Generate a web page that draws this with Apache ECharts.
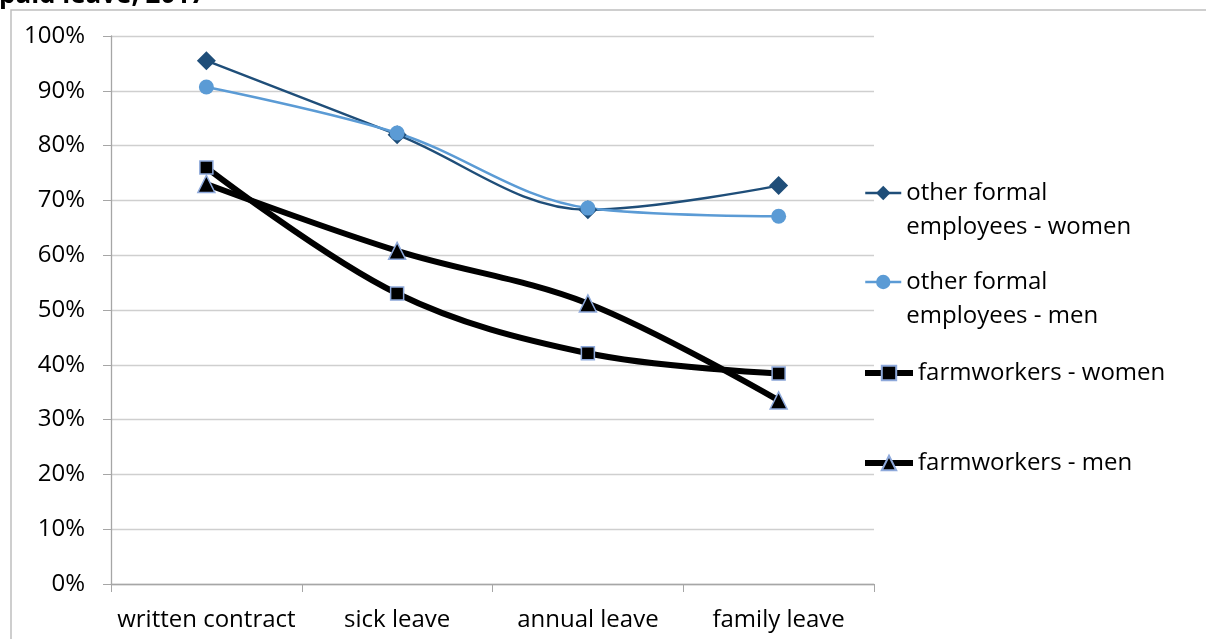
<!DOCTYPE html>
<html>
<head>
<meta charset="utf-8">
<script src="https://cdn.jsdelivr.net/npm/echarts@6/dist/echarts.min.js"></script>
<style>
  html, body { margin: 0; padding: 0; background: #fff; }
  #chart { width: 1206px; height: 639px; }
</style>
</head>
<body>
<div id="chart"></div>
<script>
// categories and values (share of workers, %)
var categories = ['written contract', 'sick leave', 'annual leave', 'family leave'];
var otherWomen = [95.5, 82.0, 68.3, 72.7];
var otherMen = [90.7, 82.3, 68.6, 67.1];
var farmWomen = [76.0, 53.0, 42.1, 38.4];
var farmMen = [73.0, 60.8, 51.2, 33.5];
var yTicks = [0, 10, 20, 30, 40, 50, 60, 70, 80, 90, 100];

var FONT = '"Open Sans", "Liberation Sans", sans-serif';

var chart = echarts.init(document.getElementById('chart'));

var makeSeries = function (name, data, color, width, symbol, size, border) {
    return {
        name: name,
        type: 'line',
        data: data,
        smooth: 0.35,
        symbol: symbol,
        symbolSize: size,
        showAllSymbol: true,
        z: width > 3 ? 3 : 4,
        lineStyle: { color: color, width: width },
        itemStyle: {
            color: color,
            borderColor: border || color,
            borderWidth: border ? 1.5 : 0
        },
        emphasis: { disabled: true }
    };
};

// one legend per series so each entry can sit where the reference has it
var legendItem = function (name, left, top, iconWidth, lineWidth, twoLines) {
    return {
        show: true,
        data: [name],
        left: left,
        top: top,
        orient: 'vertical',
        itemWidth: iconWidth,
        itemHeight: 18,
        itemGap: 0,
        padding: 0,
        selectedMode: false,
        lineStyle: { width: lineWidth },
        // a blank first line keeps the icon level with the first text line
        formatter: function (n) { return twoLines ? ' \n' + n : n; },
        textStyle: {
            fontFamily: FONT,
            fontSize: 24,
            color: '#000',
            lineHeight: 34
        }
    };
};

var option = {
    animation: false,
    backgroundColor: '#fff',
    title: {
        text: 'paid leave, 2017',
        left: -1,
        top: -17,
        padding: 0,
        textStyle: { fontFamily: FONT, fontSize: 26, fontWeight: 'bold', color: '#000' }
    },
    graphic: [{
        type: 'rect',
        shape: { x: 11, y: 10, width: 1400, height: 800 },
        style: { fill: null, stroke: '#BFBFBF', lineWidth: 1.5 },
        silent: true,
        z: -10
    }],
    legend: [
        legendItem('other formal\nemployees - women', 864, 142, 36, 2.5, true),
        legendItem('other formal\nemployees - men', 864, 231, 36, 2.5, true),
        legendItem('farmworkers - women', 862, 356, 48, 6, false),
        legendItem('farmworkers - men', 862, 446, 48, 6, false)
    ],
    grid: { left: 111, right: 332, top: 36, bottom: 55 },
    xAxis: {
        type: 'category',
        data: categories,
        boundaryGap: true,
        axisLine: { lineStyle: { color: '#A6A6A6', width: 1.3 } },
        axisTick: { show: true, length: 8, alignWithLabel: false, lineStyle: { color: '#A6A6A6' } },
        axisLabel: { interval: 0, fontFamily: FONT, fontSize: 24, color: '#000', margin: 24 }
    },
    yAxis: {
        type: 'value',
        min: yTicks[0],
        max: yTicks[yTicks.length - 1],
        interval: 10,
        axisLine: { show: true, lineStyle: { color: '#A6A6A6', width: 1.3 } },
        axisTick: { show: true, length: 8, lineStyle: { color: '#A6A6A6' } },
        splitLine: { lineStyle: { color: '#CFCFCF', width: 1.3 } },
        axisLabel: {
            fontFamily: FONT, fontSize: 24, color: '#000', margin: 26,
            formatter: function (v) { return v + '%'; }
        }
    },
    series: [
        makeSeries('other formal\nemployees - women', otherWomen, '#1F4E79', 2.5, 'diamond', 19),
        makeSeries('other formal\nemployees - men', otherMen, '#5B9BD5', 2.5, 'circle', 15),
        makeSeries('farmworkers - women', farmWomen, '#000000', 6, 'rect', 13, '#8EA9DB'),
        makeSeries('farmworkers - men', farmMen, '#000000', 6, 'triangle', 17, '#8EA9DB')
    ]
};

chart.setOption(option);
</script>
</body>
</html>
